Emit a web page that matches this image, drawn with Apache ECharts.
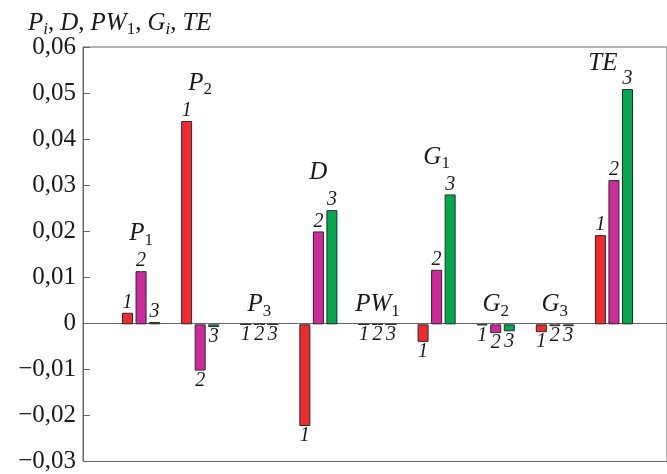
<!DOCTYPE html>
<html>
<head>
<meta charset="utf-8">
<script src="https://cdn.jsdelivr.net/npm/echarts@6/dist/echarts.min.js"></script>
<style>html,body{margin:0;padding:0;background:#fff;}#c{width:667px;height:474px;}</style>
</head>
<body>
<div id="c"></div>
<script>
const categories = ['P1','P2','P3','D','PW1','G1','G2','G3','TE'];
const labelMain = ['P','P','P','D','PW','G','G','G','TE'];
const labelSub = ['1','2','3','','1','1','2','3',''];
const series1 = [0.0025, 0.044, 0, -0.022, 0, -0.0038, -0.0002, -0.0017, 0.0193];
const series2 = [0.0115, -0.010, 0, 0.0201, 0, 0.0118, -0.0019, -0.0004, 0.0312];
const series3 = [0.0005, -0.0006, 0, 0.0247, 0, 0.0281, -0.0015, -0.0004, 0.0509];
const seriesNames = ['1', '2', '3'];
const yMin = -0.03, yMax = 0.06, yInterval = 0.01;

const FONT = '"Liberation Serif", "DejaVu Serif", serif';
const TXT = '#1a1a1a';
const colors = ['#ee2a2e', '#cf2a9b', '#02a84e'];
const groupLabelOffset = [[0, 0], [0, 0], [0, 0], [0, 0], [0, 0], [0, 0], [0, 0], [0, 0], [-11, 12]];

const richStyles = {
  it: {fontFamily: FONT, fontStyle: 'italic', fontWeight: 'normal', fontSize: 25, color: TXT, lineHeight: 30},
  up: {fontFamily: FONT, fontStyle: 'normal', fontWeight: 'normal', fontSize: 25, color: TXT, lineHeight: 30, padding: [0, 6, 0, 0]},
  sub: {fontFamily: FONT, fontStyle: 'normal', fontWeight: 'normal', fontSize: 17, color: TXT, lineHeight: 30, padding: [13, 0, 0, 0]},
  subi: {fontFamily: FONT, fontStyle: 'italic', fontWeight: 'normal', fontSize: 17, color: TXT, lineHeight: 30, padding: [13, 0, 0, 0]}
};

function groupLabelText(i) {
  let s = '{it|' + labelMain[i] + '}';
  if (labelSub[i]) s += '{sub|' + labelSub[i] + '}';
  return s;
}

const allSeries = [series1, series2, series3];
const groupTop = categories.map((c, i) => Math.max(0, series1[i], series2[i], series3[i]));

const chart = echarts.init(document.getElementById('c'), null, {renderer: 'canvas'});

const barSeries = allSeries.map((arr, si) => ({
  type: 'bar',
  name: seriesNames[si],
  xAxisIndex: 1,
  yAxisIndex: 1,
  barWidth: 11,
  barGap: '23%',
  itemStyle: {color: colors[si], borderColor: '#2a2a2a', borderWidth: 1},
  label: {
    show: true,
    formatter: seriesNames[si],
    fontFamily: FONT, fontStyle: 'italic', fontWeight: 'normal', fontSize: 20, color: TXT,
    distance: 0
  },
  data: arr.map(v => ({value: v, label: {position: v > 0 ? 'top' : 'bottom'}})),
  z: 3
}));

const groupSeries = {
  type: 'scatter',
  xAxisIndex: 1,
  yAxisIndex: 1,
  symbolSize: 1,
  itemStyle: {color: '#ffffff'},
  silent: true,
  data: categories.map((c, i) => ({
    value: groupTop[i],
    label: {
      show: true,
      position: 'top',
      color: TXT,
      opacity: 1,
      distance: groupTop[i] > 0.001 ? 22 : 4,
      offset: groupLabelOffset[i],
      formatter: groupLabelText(i),
      rich: richStyles
    }
  })),
  z: 4
};

const option = {
  animation: false,
  backgroundColor: '#fff',
  title: {
    left: 23, top: 3,
    text: '{it|P}{subi|i}{up|,}{it|D}{up|,}{it|PW}{sub|1}{up|,}{it|G}{subi|i}{up|,}{it|TE}',
    textStyle: {fontWeight: 'normal', fontFamily: FONT, color: TXT, rich: richStyles}
  },
  grid: [
    {left: 83, right: -3, top: 47, bottom: 11, show: true, borderColor: '#666', borderWidth: 1, backgroundColor: 'transparent'},
    {left: 111.5, right: 23.5, top: 47, bottom: 11}
  ],
  xAxis: [
    {type: 'value', gridIndex: 0, min: 0, max: 1, axisLine: {show: true, onZero: true, lineStyle: {color: '#666', width: 1}},
     axisTick: {show: false}, axisLabel: {show: false}, splitLine: {show: false}},
    {type: 'category', gridIndex: 1, data: categories, show: false}
  ],
  yAxis: [
    {type: 'value', gridIndex: 0, min: yMin, max: yMax, interval: yInterval,
     axisLine: {show: true, lineStyle: {color: '#666', width: 1}},
     axisTick: {show: true, inside: true, length: 7, lineStyle: {color: '#666'}},
     splitLine: {show: false},
     axisLabel: {
       fontFamily: FONT, fontSize: 25, color: TXT, margin: 7,
       formatter: v => {
         const r = Math.round(v * 100) / 100;
         if (r === 0) return '0';
         return (r < 0 ? '\u2212' : '') + Math.abs(r).toFixed(2).replace('.', ',');
       }
     }},
    {type: 'value', gridIndex: 1, min: yMin, max: yMax, interval: yInterval, show: false}
  ],
  series: barSeries.concat([groupSeries])
};
chart.setOption(option);
</script>
</body>
</html>
